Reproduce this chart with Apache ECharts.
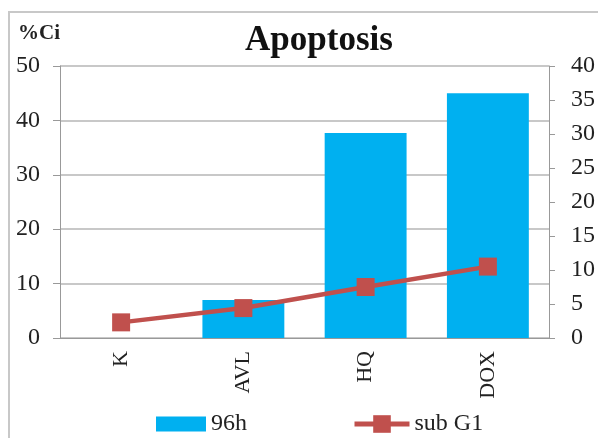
<!DOCTYPE html>
<html><head><meta charset="utf-8">
<script src="https://cdn.jsdelivr.net/npm/echarts@6/dist/echarts.min.js"></script>
<style>html,body{margin:0;padding:0;background:#fff}#c{width:598px;height:438px}</style>
</head><body><div id="c"></div>
<script>
var categories = ['K', 'AVL', 'HQ', 'DOX'];
var bar96h = [0, 7.0, 37.7, 45.0];
var subG1 = [2.3, 4.4, 7.5, 10.5];
var leftTicks = [0, 10, 20, 30, 40, 50];
var rightTicks = [0, 5, 10, 15, 20, 25, 30, 35, 40];

var F = 'Liberation Serif';
var chart = echarts.init(document.getElementById('c'));
chart.setOption({
  animation: false,
  backgroundColor: '#fff',
  graphic: [
    {type: 'rect', shape: {x: 9, y: 12, width: 620, height: 460}, style: {fill: 'none', stroke: '#c8c8c8', lineWidth: 2}},
    {type: 'text', left: 18, top: 23, style: {text: '%Ci', font: 'bold 21px "Liberation Serif"', fill: '#222'}}
  ],
  title: {text: 'Apoptosis', left: 314, textAlign: 'center', top: 18,
    textStyle: {fontFamily: F, fontSize: 35, fontWeight: 'bold', color: '#111'}},
  grid: {left: 60, right: 47, top: 66, bottom: 100},
  legend: [
    {data: ['96h'], left: 151, top: 407, itemWidth: 50, itemHeight: 15, icon: 'rect',
      textStyle: {fontFamily: F, fontSize: 24, color: '#222'}},
    {data: ['sub G1'], left: 347, top: 407, itemWidth: 55, itemHeight: 22,
      lineStyle: {width: 5},
      textStyle: {fontFamily: F, fontSize: 24, color: '#222'}}
  ],
  xAxis: {type: 'category', data: categories,
    axisLine: {lineStyle: {color: '#999', width: 1}},
    axisTick: {length: 6, lineStyle: {color: '#999'}},
    axisLabel: {rotate: 90, fontFamily: F, fontSize: 22, color: '#222', margin: 13}},
  yAxis: [
    {type: 'value', min: 0, max: 50, interval: 10,
      axisLine: {show: true, lineStyle: {color: '#999'}},
      axisTick: {show: true, length: 7, lineStyle: {color: '#999'}},
      splitLine: {lineStyle: {color: '#c8c8c8', width: 2}},
      axisLabel: {fontFamily: F, fontSize: 24, color: '#222', margin: 20,
        formatter: function (v) { return leftTicks.indexOf(v) >= 0 ? String(v) : ''; }}},
    {type: 'value', min: 0, max: 40, interval: 5, position: 'right',
      axisLine: {show: true, lineStyle: {color: '#999'}},
      axisTick: {show: true, length: 6, lineStyle: {color: '#999'}},
      splitLine: {show: false},
      axisLabel: {fontFamily: F, fontSize: 24, color: '#222', margin: 22,
        formatter: function (v) { return rightTicks.indexOf(v) >= 0 ? String(v) : ''; }}}
  ],
  series: [
    {name: '96h', type: 'bar', data: bar96h, yAxisIndex: 0, barCategoryGap: '33%',
      itemStyle: {color: '#00B0F0'}},
    {name: 'sub G1', type: 'line', data: subG1, yAxisIndex: 1,
      symbol: 'rect', symbolSize: 18,
      lineStyle: {color: '#C0504D', width: 4.5},
      itemStyle: {color: '#C0504D'}}
  ]
});
</script></body></html>
